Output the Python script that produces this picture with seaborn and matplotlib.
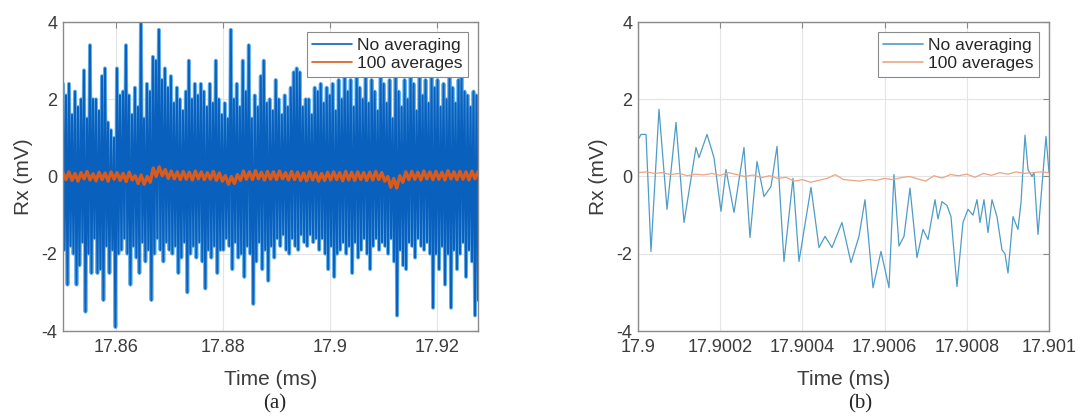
import numpy as np
import pandas as pd
import matplotlib
matplotlib.use("Agg")
import matplotlib.pyplot as plt
import seaborn as sns

# ---------------- data ----------------
# Panel (a): full record, time span of the trace (ms)
T_A_START = 17.85
T_A_END = 17.9277
# Upper peaks of the unaveraged trace, one per ~3 px column (mV)
upper_a = [2.4, 2.1, 2.4, 1.6, 2.2, 1.8, 2.0, 2.75, 1.5, 3.4,
           2.0, 2.0, 1.7, 2.6, 2.8, 1.4, 1.2, 1.0, 2.8, 2.1,
           2.2, 3.4, 2.1, 1.6, 2.3, 1.8, 4.0, 1.5, 2.4, 2.2,
           3.1, 3.0, 3.8, 2.5, 2.8, 2.3, 2.6, 1.9, 2.3, 2.0,
           1.7, 2.2, 3.0, 2.0, 2.4, 2.1, 2.4, 2.2, 1.8, 2.4,
           1.9, 3.0, 2.0, 1.6, 1.9, 1.5, 3.8, 2.0, 2.4, 1.8,
           3.0, 2.2, 3.4, 1.5, 2.1, 1.8, 2.6, 3.0, 1.9, 2.0,
           1.7, 2.5, 2.0, 1.6, 2.1, 1.8, 2.3, 2.7, 2.8, 2.7,
           1.8, 2.0, 2.0, 1.6, 2.3, 2.2, 2.4, 1.9, 2.3, 2.1,
           2.4, 1.7, 2.5, 2.0, 2.6, 2.2, 2.5, 1.8, 2.6, 2.3,
           2.0, 2.6, 1.9, 2.5, 2.2, 1.7, 2.6, 2.4, 1.9, 2.5,
           1.5, 2.6, 2.2, 1.8, 2.5, 2.0, 2.6, 2.4, 1.7, 2.6,
           2.1, 2.5, 1.9, 2.6, 2.3, 2.5, 1.8, 2.4, 2.0, 2.6,
           2.3, 1.9, 2.5, 2.6, 2.2, 2.1, 1.8, 2.2, 2.1]
# Lower troughs of the unaveraged trace (mV)
lower_a = [-1.9, -2.8, -1.8, -2.0, -2.8, -2.3, -1.7, -3.5, -2.0, -2.5,
           -1.6, -2.5, -2.4, -3.2, -1.8, -2.5, -1.9, -3.9, -2.0, -1.9,
           -1.6, -2.0, -2.8, -1.8, -2.1, -2.5, -1.7, -2.2, -1.9, -3.2,
           -2.0, -1.6, -1.9, -2.2, -1.7, -1.9, -2.0, -1.8, -2.5, -2.1,
           -1.7, -3.0, -2.0, -1.8, -2.1, -1.7, -2.2, -2.9, -1.9, -2.1,
           -1.8, -2.5, -1.9, -1.9, -1.6, -1.8, -2.4, -1.7, -2.1, -2.0,
           -2.6, -1.8, -2.0, -3.3, -2.2, -1.7, -2.4, -1.9, -2.7, -1.8,
           -2.1, -1.6, -1.8, -1.5, -1.9, -2.0, -1.6, -1.8, -1.9, -1.5,
           -1.7, -1.8, -1.5, -1.7, -1.6, -1.9, -1.6, -2.0, -2.4, -1.8,
           -2.6, -2.0, -1.9, -1.7, -2.0, -1.8, -2.5, -1.7, -2.1, -1.9,
           -1.6, -2.0, -2.4, -1.8, -1.6, -1.9, -1.7, -1.8, -2.0, -1.6,
           -2.2, -3.6, -1.9, -2.3, -2.4, -1.7, -1.8, -2.1, -1.6, -1.8,
           -1.9, -1.7, -2.0, -3.4, -2.0, -2.4, -1.8, -2.8, -2.0, -3.4,
           -1.9, -2.4, -2.0, -1.7, -2.6, -1.9, -2.2, -3.6, -3.2]
# 100-average trace of panel (a) (mV)
avg_a = [0.10, -0.08, 0.12, -0.10, 0.08, -0.12, 0.10, -0.06, 0.13, -0.09,
         0.07, -0.11, 0.11, -0.08, 0.09, -0.12, 0.12, -0.07, 0.10, -0.10,
         0.08, -0.13, 0.11, -0.09, 0.02, -0.18, 0.04, -0.20, 0.00, -0.15,
         0.22, 0.00, 0.25, 0.02, 0.18, -0.05, 0.14, -0.06, 0.12, -0.08,
         0.13, -0.07, 0.11, -0.09, 0.14, -0.06, 0.12, -0.08, 0.10, -0.07,
         0.13, -0.10, 0.09, -0.12, 0.02, -0.20, 0.00, -0.18, 0.05, -0.10,
         0.14, -0.07, 0.12, -0.08, 0.15, -0.06, 0.11, -0.09, 0.13, -0.07,
         0.12, -0.08, 0.14, -0.06, 0.10, -0.09, 0.13, -0.08, 0.11, -0.10,
         0.09, -0.11, 0.12, -0.09, 0.10, -0.12, 0.08, -0.10, 0.11, -0.09,
         0.12, -0.08, 0.10, -0.11, 0.13, -0.09, 0.11, -0.10, 0.12, -0.08,
         0.10, -0.10, 0.11, -0.09, 0.13, -0.08, 0.10, -0.12, 0.00, -0.28,
         -0.05, -0.30, 0.02, -0.15, 0.12, -0.08, 0.13, -0.07, 0.11, -0.09,
         0.14, -0.06, 0.12, -0.08, 0.13, -0.07, 0.11, -0.09, 0.15, -0.06,
         0.12, -0.08, 0.13, -0.07, 0.12, -0.09, 0.14, -0.06, 0.12]

# Panel (b): zoom on 17.9 - 17.901 ms; vertices of the unaveraged trace
time_b = [17.9000000, 17.9000073, 17.9000195, 17.9000316, 17.9000511, 17.9000706,
          17.9000925, 17.9001119, 17.9001411, 17.9001484, 17.9001679, 17.9001849,
          17.9002019, 17.9002141, 17.9002336, 17.9002579, 17.9002725, 17.9002895,
          17.9003066, 17.9003236, 17.9003382, 17.9003552, 17.9003771, 17.9003917,
          17.9004209, 17.9004404, 17.9004550, 17.9004720, 17.9004963, 17.9005182,
          17.9005377, 17.9005523, 17.9005718, 17.9005912, 17.9006107, 17.9006228,
          17.9006350, 17.9006472, 17.9006618, 17.9006788, 17.9006934, 17.9007056,
          17.9007226, 17.9007299, 17.9007396, 17.9007518, 17.9007615, 17.9007761,
          17.9007907, 17.9008029, 17.9008151, 17.9008248, 17.9008321, 17.9008418,
          17.9008516, 17.9008613, 17.9008734, 17.9008856, 17.9008929, 17.9009002,
          17.9009124, 17.9009245, 17.9009319, 17.9009416, 17.9009489, 17.9009586,
          17.9009635, 17.9009732, 17.9009927, 17.9010000]
rx_b = [0.95, 1.09, 1.09, -1.94, 1.74, -0.85,
        1.40, -1.19, 0.75, 0.49, 1.09, 0.49,
        -0.90, 0.18, -0.93, 0.75, -1.58, 0.39,
        -0.52, -0.26, 0.78, -2.20, -0.05, -2.20,
        -0.28, -1.84, -1.55, -1.84, -1.19, -2.23,
        -1.55, -0.60, -2.88, -1.94, -2.88, 0.05,
        -1.80, -1.55, -0.30, -2.10, -1.37, -1.63,
        -0.60, -1.10, -0.65, -0.75, -1.04, -2.85,
        -1.19, -0.85, -1.00, -0.60, -1.19, -0.60,
        -1.45, -0.60, -1.04, -1.90, -2.00, -2.50,
        -1.04, -1.37, -0.67, 1.07, 0.18, 0.00,
        0.10, -1.50, 1.04, 0.10]
# 100-average trace in panel (b), every 2e-5 ms from 17.9
T_B_START = 17.9
T_B_END = 17.901
avg_b = [0.10, 0.12, 0.08, 0.10, 0.05, 0.08, 0.02, 0.06, 0.04, 0.08,
         0.03, 0.10, 0.05, 0.00, 0.04, -0.03, 0.02, -0.05, -0.02, -0.12,
         -0.08, -0.15, -0.10, -0.05, 0.05, -0.08, -0.10, -0.12, -0.08, -0.10,
         -0.05, -0.08, -0.03, 0.00, -0.06, -0.12, 0.02, -0.04, 0.05, 0.02,
         0.06, -0.02, 0.08, 0.03, 0.10, 0.06, 0.12, 0.08, 0.10, 0.12, 0.10]

XTICKS_A = [17.86, 17.88, 17.90, 17.92]
XTICKLABELS_A = ["17.86", "17.88", "17.9", "17.92"]
XTICKS_B = [17.9, 17.9002, 17.9004, 17.9006, 17.9008, 17.901]
XTICKLABELS_B = ["17.9", "17.9002", "17.9004", "17.9006", "17.9008", "17.901"]
YTICKS = [-4, -2, 0, 2, 4]
YTICKLABELS = ["-4", "-2", "0", "2", "4"]
LABELS = ["No averaging", "100 averages"]

# ---------------- build tables ----------------
n_a = len(upper_a)
rx_a = np.empty(2 * n_a)
rx_a[0::2] = upper_a
rx_a[1::2] = lower_a
df_a = pd.DataFrame({"t": np.linspace(T_A_START, T_A_END, 2 * n_a), "rx": rx_a})
df_avg_a = pd.DataFrame({"t": np.linspace(T_A_START, T_A_END, len(avg_a)), "rx": avg_a})
df_b = pd.DataFrame({"t": time_b, "rx": rx_b})
df_avg_b = pd.DataFrame({"t": np.linspace(T_B_START, T_B_END, len(avg_b)), "rx": avg_b})

# ---------------- style ----------------
sns.set_theme(style="white")
plt.rcParams['font.family'] = ['Liberation Sans', 'DejaVu Sans']

W, H = 1083, 419
fig = plt.figure(figsize=(W / 100, H / 100), dpi=100)
axA = fig.add_axes([63 / W, 1 - 331 / H, 415 / W, 309 / H])
axB = fig.add_axes([638 / W, 1 - 331 / H, 411 / W, 309 / H])

BLUE = "#0a60bd"
HALO = "#6ab6ee"
ORANGE = "#DA5A1B"

# panel (a)
sns.lineplot(data=df_a, x="t", y="rx", ax=axA, color=HALO, lw=2.8,
             sort=False, estimator=None, legend=False)
sns.lineplot(data=df_a, x="t", y="rx", ax=axA, color=BLUE, lw=1.5,
             sort=False, estimator=None, label=LABELS[0])
sns.lineplot(data=df_avg_a, x="t", y="rx", ax=axA, color=ORANGE, lw=2.4,
             sort=False, estimator=None, label=LABELS[1])

# panel (b)
sns.lineplot(data=df_b, x="t", y="rx", ax=axB, color="#4f9cc6", lw=0.9,
             sort=False, estimator=None, label=LABELS[0])
sns.lineplot(data=df_avg_b, x="t", y="rx", ax=axB, color="#eba585", lw=0.9,
             sort=False, estimator=None, label=LABELS[1])

for ax, xl, xt, xtl in [(axA, (T_A_START, T_A_END), XTICKS_A, XTICKLABELS_A),
                        (axB, (T_B_START, T_B_END), XTICKS_B, XTICKLABELS_B)]:
    ax.set_xlim(*xl)
    ax.set_ylim(-4, 4)
    ax.set_xticks(xt, labels=xtl)
    ax.set_yticks(YTICKS, labels=YTICKLABELS)
    ax.grid(True, color="#e4e4e4", lw=0.8)
    ax.set_axisbelow(True)
    ax.tick_params(direction="in", top=True, right=True, length=4, width=0.8,
                   color="#8a8a8a", labelcolor="#3c3c3c", labelsize=13)
    ax.tick_params(axis="x", pad=6)
    ax.tick_params(axis="y", pad=4)
    for s in ax.spines.values():
        s.set_color("#8a8a8a")
        s.set_linewidth(1.0)
    ax.set_xlabel("Time (ms)", fontsize=15, color="#3c3c3c", labelpad=10)
    ax.set_ylabel("Rx (mV)", fontsize=15, color="#3c3c3c", labelpad=6)
    leg = ax.legend(loc="upper right", fontsize=12.5, frameon=True, fancybox=False,
                    framealpha=1.0, edgecolor="#8a8a8a", handlelength=2.3,
                    borderpad=0.3, labelspacing=0.2, handletextpad=0.3,
                    borderaxespad=0.6)
    leg.get_frame().set_linewidth(0.8)
    for line in leg.get_lines():
        line.set_linewidth(1.2)
    for txt in leg.get_texts():
        txt.set_color("#262626")

fig.text(275 / W, 1 - 404 / H, "(a)", ha="center", va="center",
         family=["Liberation Serif", "DejaVu Serif"], fontsize=15)
fig.text(860 / W, 1 - 404 / H, "(b)", ha="center", va="center",
         family=["Liberation Serif", "DejaVu Serif"], fontsize=15)

fig.savefig("out.png", dpi=100)
